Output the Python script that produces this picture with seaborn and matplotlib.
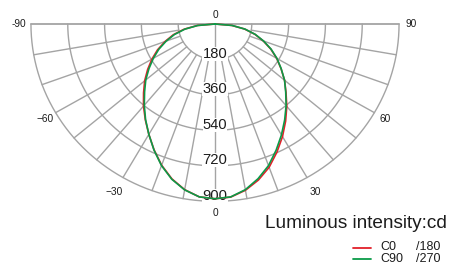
import numpy as np
import pandas as pd
import matplotlib
matplotlib.use("Agg")
import matplotlib.pyplot as plt
from matplotlib.lines import Line2D
import seaborn as sns

# gamma angles (deg), 0 = straight down
ANGLES = [-90, -85, -80, -75, -70, -65, -60, -55, -50, -45, -40, -35, -30,
          -25, -20, -15, -10, -5, 0, 5, 10, 15, 20, 25, 30, 35, 40, 45, 50,
          55, 60, 65, 70, 75, 80, 85, 90]

# luminous intensity (cd)
C0_180 = [0, 87, 154, 211, 260, 310, 356, 402, 449, 494, 544, 594, 647,
          705, 763, 814, 854, 881, 887, 882, 857, 820, 774, 717, 660, 602,
          546, 491, 444, 394, 348, 301, 251, 202, 147, 82, 0]
C90_270 = [0, 84, 149, 205, 254, 303, 348, 394, 442, 487, 538, 592, 647,
           706, 765, 816, 855, 881, 887, 881, 854, 813, 765, 707, 650, 594,
           541, 489, 444, 395, 350, 303, 253, 204, 149, 84, 0]

SERIES = ["C0", "C90"]
PLANES = ["/180", "/270"]
COLORS = ["#e2202a", "#0a9b48"]

RINGS = [180, 360, 540, 720, 900]
SPOKES = [-80, -70, -60, -50, -40, -30, -20, -10, 0, 10, 20, 30, 40, 50, 60, 70, 80]
ANGLE_TICKS = [-90, -60, -30, 0, 30, 60, 90]
ANGLE_TEXT = ["-90", "\u221260", "\u221230", "0", "30", "60", "90"]

W, H = 450, 268
CX, CY = 215, 24          # pole position in pixels
SX, SY = 0.2045, 0.197    # pixels per cd
GRID = "#a4a4a4"
INK = "#1c1c1c"


def polar_xy(r, a):
    t = np.radians(a)
    return np.asarray(r) * np.sin(t), -np.asarray(r) * np.cos(t)


def fig_pos(px, py):
    return px / W, 1 - py / H


sns.set_style("white")
plt.rcParams["font.family"] = ["Liberation Sans", "DejaVu Sans"]

fig = plt.figure(figsize=(W / 100, H / 100), dpi=100)
ax = fig.add_axes([0, 0, 1, 1])
ax.set_xlim(-CX / SX, (W - CX) / SX)
ax.set_ylim(-(H - CY) / SY, CY / SY)
ax.axis("off")

# grid: rings, spokes, top line
arc = np.linspace(-90, 90, 361)
for r in RINGS:
    x, y = polar_xy(r, arc)
    ax.plot(x, y, color=GRID, lw=1.0, zorder=1)
for a in SPOKES:
    r0 = 0 if a == 0 else RINGS[0]
    x, y = polar_xy([r0, RINGS[-1]], a)
    ax.plot(x, y, color=GRID, lw=1.0, zorder=1)
ax.plot([-RINGS[-1], RINGS[-1]], [0, 0], color=GRID, lw=1.3, zorder=1)

# ring values (white box hides grid, curves pass over)
for r in RINGS:
    ax.text(0, -(r - 8), str(r), ha="center", va="baseline", fontsize=10.6,
            color=INK, zorder=1.5,
            bbox=dict(facecolor="white", edgecolor="none", pad=0.1))

# angle labels
for a, s in zip(ANGLE_TICKS, ANGLE_TEXT):
    rl = 982 if abs(a) == 30 else 960
    x, y = polar_xy(rl, a)
    ax.text(x, y, s, ha="center", va="center", fontsize=7.3, color=INK)
ax.text(0, 45, "0", ha="center", va="center", fontsize=7.3, color=INK)

# curves
frames = []
for name, vals in zip(SERIES, [C0_180, C90_270]):
    x, y = polar_xy(vals, ANGLES)
    frames.append(pd.DataFrame({"x": x, "y": y, "series": name}))
df = pd.concat(frames, ignore_index=True)
sns.lineplot(data=df, x="x", y="y", hue="series", hue_order=SERIES,
             palette=COLORS, sort=False, estimator=None, units="series",
             lw=1.2, legend=False, ax=ax, zorder=2)

# title and legend
fig.text(*fig_pos(447, 228), "Luminous intensity:cd", ha="right",
         va="baseline", fontsize=13.7, color=INK)
for i, (name, plane, col) in enumerate(zip(SERIES, PLANES, COLORS)):
    ly = 247.5 + i * 11.5
    fig.add_artist(Line2D([353 / W, 371 / W], [1 - ly / H] * 2,
                          color=col, lw=1.3))
    fig.text(*fig_pos(380, ly), name, ha="left", va="center",
             fontsize=9, color=INK)
    fig.text(*fig_pos(416, ly), plane, ha="left", va="center",
             fontsize=9, color=INK)

fig.savefig("out.png", dpi=100)
